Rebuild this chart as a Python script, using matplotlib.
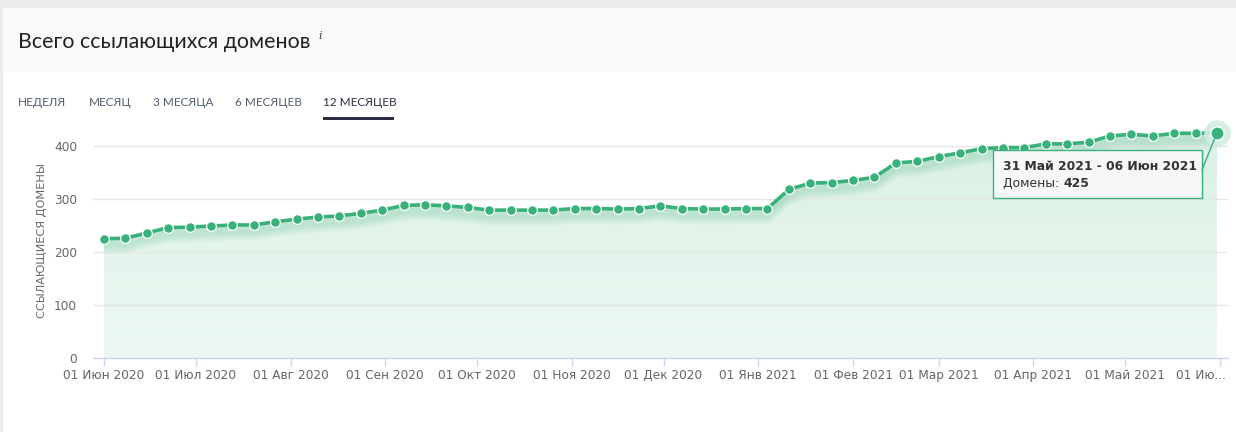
import matplotlib
matplotlib.use("Agg")
import matplotlib.pyplot as plt
import matplotlib.dates as mdates
import numpy as np
from datetime import date, timedelta
from matplotlib.colors import LinearSegmentedColormap
from matplotlib.patches import Rectangle, PathPatch
from matplotlib.transforms import offset_copy

# Данные: еженедельные значения ссылающихся доменов
start_week = date(2020, 6, 1)
domains = [225, 226, 236, 246, 247, 249, 251, 251, 257, 262, 266, 268, 273,
           279, 288, 289, 287, 284, 279, 279, 279, 279, 282, 282, 281, 282,
           287, 282, 281, 281, 282, 282, 318, 330, 331, 335, 341, 368, 371,
           380, 387, 395, 397, 397, 404, 404, 407, 419, 422, 419, 424, 424, 425]
weeks = [start_week + timedelta(weeks=i) for i in range(len(domains))]

tick_dates = [date(2020, m, 1) for m in range(6, 13)] + [date(2021, m, 1) for m in range(1, 7)]
tick_labels = ['01 Июн 2020', '01 Июл 2020', '01 Авг 2020', '01 Сен 2020', '01 Окт 2020',
               '01 Ноя 2020', '01 Дек 2020', '01 Янв 2021', '01 Фев 2021', '01 Мар 2021',
               '01 Апр 2021', '01 Май 2021', '01 Ию...']
y_ticks = [0, 100, 200, 300, 400]
tabs = ['НЕДЕЛЯ', 'МЕСЯЦ', '3 МЕСЯЦА', '6 МЕСЯЦЕВ', '12 МЕСЯЦЕВ']
tab_x = [18, 89, 153, 235, 323]

W, H = 1236, 432
GREEN = '#38b27a'

def fx(px):
    return px / W

def fy(py):
    return 1 - py / H

fig = plt.figure(figsize=(W / 100, H / 100), dpi=100)
fig.patch.set_facecolor('white')

# Фон заголовка
fig.add_artist(Rectangle((0, fy(8)), 1, 8 / H, transform=fig.transFigure, color='#ececec', lw=0, zorder=0))
fig.add_artist(Rectangle((0, 0), fx(3), 1, transform=fig.transFigure, color='#ececec', lw=0, zorder=0))
fig.add_artist(Rectangle((fx(3), fy(72)), 1, 64 / H, transform=fig.transFigure, color='#f8f9fa', lw=0, zorder=0))

fig.text(fx(18), fy(42), 'Всего ссылающихся доменов', family='Lato', fontsize=15.4,
         color='#222222', va='center', ha='left')
fig.text(fx(318), fy(36), 'i', family='DejaVu Serif', style='italic', fontsize=8,
         color='#444444', va='center', ha='left')

for name, x in zip(tabs, tab_x):
    active = name == '12 МЕСЯЦЕВ'
    fig.text(fx(x), fy(102), name, family='Lato', fontsize=8.5,
             color='#2b2d42' if active else '#4f5d6b', va='center', ha='left')
fig.add_artist(Rectangle((fx(323), fy(120)), 71 / W, 2.5 / H, transform=fig.transFigure,
                         color='#2b2d42', lw=0))

# Область графика
x_left = mdates.date2num(date(2020, 6, 1)) - 11 / 3.058
x_right = mdates.date2num(date(2021, 6, 1)) + 8 / 3.058
ax = fig.add_axes([fx(93), fy(358), fx(1228) - fx(93), 234 / H])
ax.set_xlim(x_left, x_right)
ax.set_ylim(0, 441.5)
ax.set_facecolor('none')

xn = mdates.date2num(weeks)
yv = np.array(domains)

# Градиентная заливка
poly = ax.fill_between(xn, 0, yv, color='none', lw=0)
path = poly.get_paths()[0]
clip = PathPatch(path, transform=ax.transData, facecolor='none', edgecolor='none')
ax.add_patch(clip)
cmap = LinearSegmentedColormap.from_list('g', ['#eef8f3', '#e3f4eb', '#d9f0e4'])
grad = np.linspace(0, 1, 256).reshape(-1, 1)
img = ax.imshow(grad, extent=[xn[0], xn[-1], 0, 441.5], origin='lower', aspect='auto',
                cmap=cmap, zorder=1)
img.set_clip_path(clip)

# Мягкая тень под линией
for dy in [-1, -3, -5, -7, -9, -11]:
    tr = offset_copy(ax.transData, fig=fig, x=0, y=dy, units='dots')
    sh, = ax.plot(xn, yv, color='#5fbe92', lw=6, alpha=0.07, transform=tr, zorder=2,
                  solid_capstyle='butt', solid_joinstyle='round')
    sh.set_clip_path(clip)

for yt in y_ticks[1:]:
    ax.axhline(yt, color='#e6e6e6', lw=1, zorder=1.5)

ax.plot(xn, yv, color=GREEN, lw=2.6, zorder=3)
ax.plot(xn[:-1], yv[:-1], 'o', ms=7, mfc=GREEN, mec='white', mew=0.9, zorder=4)
ax.plot(xn[-1], yv[-1], 'o', ms=19, mfc='#d2eee0', mec='none', alpha=0.9, zorder=4,
        clip_on=False)
ax.plot(xn[-1], yv[-1], 'o', ms=9.5, mfc=GREEN, mec='white', mew=1, zorder=5, clip_on=False)

for s in ['top', 'right', 'left']:
    ax.spines[s].set_visible(False)
ax.spines['bottom'].set_color('#ccd6eb')
ax.spines['bottom'].set_linewidth(1)
ax.spines['bottom'].set_zorder(6)

ax.set_xticks(mdates.date2num(tick_dates))
ax.set_xticklabels(tick_labels)
ax.set_yticks(y_ticks)
ax.set_yticklabels([str(v) for v in y_ticks])
ax.tick_params(axis='x', length=6, width=1, color='#ccd6eb', pad=2, labelsize=8.7,
               labelcolor='#666666')
ax.tick_params(axis='y', length=0, pad=11.5, labelsize=8.7, labelcolor='#666666')
last = ax.get_xticklabels()[-1]
last.set_ha('right')
last.set_transform(offset_copy(last.get_transform(), fig=fig, x=6, y=0, units='dots'))

fig.text(fx(42), fy(241), 'ССЫЛАЮЩИЕСЯ ДОМЕНЫ', rotation=90, fontsize=8.2,
         color='#666666', ha='center', va='center')

# Подсказка
fig.canvas.draw()
px, py = ax.transData.transform((xn[-1], yv[-1]))
py = H - py
fig.add_artist(Rectangle((fx(995), fy(200)), 209 / W, 48 / H, transform=fig.transFigure,
                         facecolor='#d0d0d0', edgecolor='none', alpha=0.35, zorder=9))
fig.add_artist(Rectangle((fx(993), fy(198)), 209 / W, 48 / H, transform=fig.transFigure,
                         facecolor='#f7f7f7', edgecolor=GREEN, lw=1, zorder=10))
fig.add_artist(plt.Line2D([fx(1202), fx(px)], [fy(170), fy(py)], transform=fig.transFigure,
                          color=GREEN, lw=1, zorder=10))
fig.text(fx(1003), fy(166), '31 Май 2021 - 06 Июн 2021', fontsize=8.9, weight='bold',
         color='#333333', va='center', ha='left', zorder=11)
t = fig.text(fx(1003), fy(183), 'Домены: ', fontsize=8.9, color='#333333',
             va='center', ha='left', zorder=11)
fig.canvas.draw()
bb = t.get_window_extent()
fig.text(bb.x1 / W, fy(183), '425', fontsize=8.9, weight='bold', color='#333333',
         va='center', ha='left', zorder=11)

fig.savefig('out.png', dpi=100)
